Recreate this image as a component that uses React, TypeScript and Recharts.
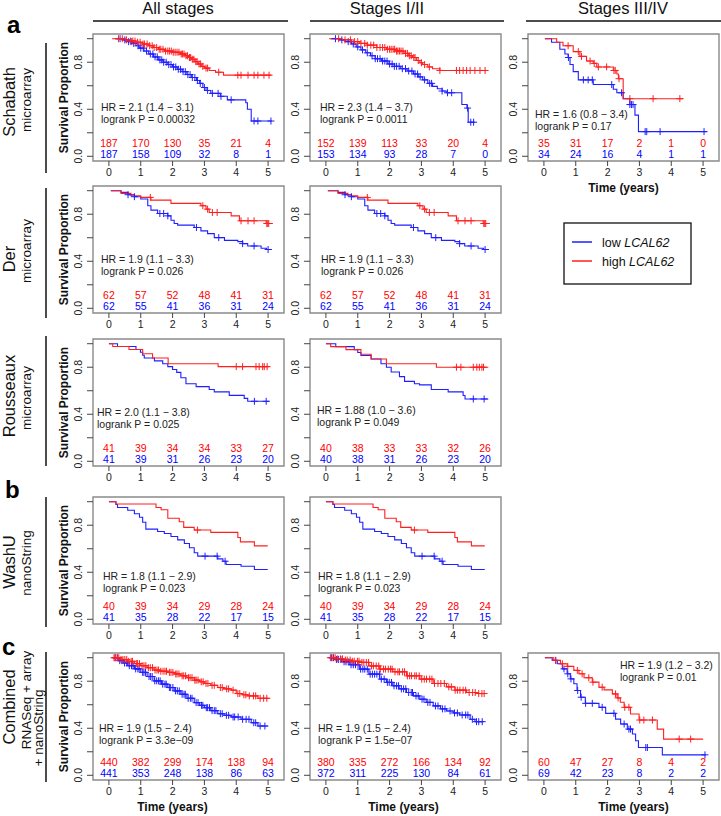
import React from "react";
import { ComposedChart, Line, Scatter, XAxis, YAxis, ReferenceArea } from "recharts";

type Step = [number, number];

const timeTicks = [0, 1, 2, 3, 4, 5];
const survTicks = [0, 0.2, 0.4, 0.6, 0.8, 1];
const survTickLabels = ["0.0", "", "0.4", "", "0.8", ""];

// Schabath microarray, all stages
const schAllHigh: Step[] = [[0.1, 1], [0.45, 0.99], [0.65, 0.98], [0.85, 0.97], [1.05, 0.955], [1.25, 0.94], [1.4, 0.925], [1.55, 0.91], [1.75, 0.895], [2.0, 0.885], [2.25, 0.87], [2.4, 0.855], [2.5, 0.84], [2.6, 0.825], [2.7, 0.805], [2.8, 0.785], [2.9, 0.765], [3.0, 0.75], [3.15, 0.73], [3.35, 0.715], [3.6, 0.69], [5.1, 0.69]];
const schAllHighCens = [0.3, 0.42, 0.55, 0.68, 0.75, 0.82, 0.9, 0.98, 1.07, 1.12, 1.2, 1.28, 1.36, 1.42, 1.5, 1.58, 1.63, 1.7, 1.78, 1.85, 1.9, 1.96, 2.02, 2.08, 2.14, 2.2, 2.27, 2.31, 2.36, 2.42, 2.47, 2.53, 2.57, 2.62, 2.67, 2.73, 2.77, 2.83, 2.88, 2.95, 3.05, 3.1, 3.45, 4.05, 4.15, 4.37, 4.56, 4.68, 4.87, 5.03];
const schAllLow: Step[] = [[0.2, 1], [0.45, 0.99], [0.6, 0.975], [0.75, 0.96], [0.85, 0.94], [0.95, 0.92], [1.1, 0.895], [1.25, 0.87], [1.4, 0.845], [1.55, 0.82], [1.7, 0.8], [1.85, 0.78], [2.0, 0.76], [2.15, 0.74], [2.3, 0.72], [2.45, 0.695], [2.6, 0.67], [2.75, 0.645], [2.85, 0.62], [2.95, 0.585], [3.05, 0.56], [3.2, 0.535], [3.5, 0.51], [3.72, 0.48], [4.3, 0.455], [4.35, 0.4], [4.47, 0.3], [5.12, 0.3]];
const schAllLowCens = [0.35, 0.5, 0.62, 0.7, 0.78, 0.92, 1.0, 1.08, 1.18, 1.3, 1.38, 1.45, 1.52, 1.6, 1.66, 1.72, 1.8, 1.88, 1.95, 2.03, 2.1, 2.18, 2.25, 2.33, 2.4, 2.48, 2.55, 2.62, 2.7, 2.78, 2.87, 3.0, 3.1, 3.25, 3.43, 3.52, 3.84, 4.56, 4.68, 5.09];
const schAllRiskHigh = [187, 170, 130, 35, 21, 4];
const schAllRiskLow = [187, 158, 109, 32, 8, 1];

// Schabath microarray, stages I/II
const schEarlyHigh: Step[] = [[0.1, 1], [0.5, 0.99], [0.8, 0.975], [1.05, 0.96], [1.3, 0.945], [1.6, 0.925], [1.9, 0.91], [2.2, 0.895], [2.45, 0.875], [2.6, 0.855], [2.72, 0.84], [2.85, 0.815], [2.95, 0.795], [3.04, 0.78], [3.2, 0.76], [3.35, 0.745], [3.58, 0.73], [5.06, 0.73]];
const schEarlyHighCens = [0.4, 0.6, 0.77, 0.9, 1.0, 1.1, 1.22, 1.3, 1.41, 1.5, 1.6, 1.7, 1.78, 1.85, 1.93, 2.0, 2.05, 2.11, 2.16, 2.22, 2.26, 2.31, 2.36, 2.42, 2.5, 2.56, 2.62, 2.68, 2.76, 2.8, 2.9, 3.0, 3.1, 3.25, 3.58, 4.1, 4.2, 4.31, 4.42, 4.53, 4.68, 4.84, 5.0];
const schEarlyLow: Step[] = [[0.15, 1], [0.4, 0.99], [0.6, 0.975], [0.8, 0.955], [0.95, 0.93], [1.1, 0.905], [1.25, 0.88], [1.4, 0.855], [1.55, 0.83], [1.75, 0.81], [1.95, 0.785], [2.15, 0.765], [2.35, 0.745], [2.55, 0.725], [2.75, 0.7], [2.9, 0.675], [3.04, 0.65], [3.2, 0.62], [3.35, 0.595], [3.5, 0.575], [3.65, 0.555], [3.78, 0.54], [4.27, 0.44], [4.43, 0.41], [4.47, 0.29], [4.68, 0.29]];
const schEarlyLowCens = [0.3, 0.5, 0.7, 0.86, 1.0, 1.15, 1.3, 1.45, 1.55, 1.62, 1.7, 1.78, 1.85, 1.92, 2.0, 2.08, 2.15, 2.22, 2.3, 2.4, 2.5, 2.6, 2.7, 2.8, 2.88, 2.96, 3.1, 3.26, 3.32, 3.65, 3.82, 3.95, 4.45, 4.55, 4.64];
const schEarlyRiskHigh = [152, 139, 113, 33, 20, 4];
const schEarlyRiskLow = [153, 134, 93, 28, 7, 0];

// Schabath microarray, stages III/IV
const schLateHigh: Step[] = [[0.03, 1], [0.4, 0.97], [0.6, 0.94], [0.92, 0.89], [1.13, 0.85], [1.34, 0.81], [1.55, 0.79], [1.66, 0.76], [2.18, 0.73], [2.29, 0.7], [2.34, 0.66], [2.49, 0.49], [4.38, 0.49]];
const schLateHighCens = [0.76, 1.08, 1.18, 1.45, 1.58, 1.71, 1.97, 2.2, 2.24, 2.36, 2.7, 3.43, 4.27];
const schLateLow: Step[] = [[0.03, 1], [0.24, 0.97], [0.5, 0.91], [0.66, 0.87], [0.76, 0.84], [0.82, 0.78], [0.92, 0.72], [1.08, 0.65], [1.55, 0.61], [2.18, 0.57], [2.29, 0.54], [2.49, 0.49], [2.7, 0.44], [2.86, 0.35], [2.97, 0.21], [5.12, 0.21]];
const schLateLowCens = [0.77, 1.24, 1.39, 1.52, 2.13, 2.44, 2.7, 2.75, 2.8, 3.18, 3.23, 3.65, 5.03];
const schLateRiskHigh = [35, 31, 17, 2, 1, 0];
const schLateRiskLow = [34, 24, 16, 4, 1, 1];

// Der microarray (all stages and stages I/II show the same cohort)
const derHigh: Step[] = [[0.06, 1], [0.38, 0.977], [0.69, 0.957], [1.0, 0.943], [1.32, 0.92], [1.95, 0.892], [2.89, 0.872], [3.05, 0.843], [3.15, 0.815], [3.84, 0.786], [4.1, 0.744], [4.94, 0.721], [5.15, 0.721]];
const derHighCens = [1.3, 2.95, 3.1, 3.25, 3.4, 4.15, 4.37, 4.56, 4.96, 4.99, 5.02];
const derLow: Step[] = [[0.06, 1], [0.38, 0.986], [0.6, 0.966], [0.8, 0.949], [1.0, 0.929], [1.22, 0.872], [1.32, 0.835], [1.53, 0.806], [1.85, 0.786], [1.95, 0.749], [2.05, 0.721], [2.16, 0.707], [2.68, 0.687], [2.89, 0.658], [3.1, 0.635], [3.31, 0.601], [3.63, 0.578], [4.05, 0.567], [4.2, 0.55], [4.36, 0.53], [4.78, 0.51], [4.95, 0.5], [5.12, 0.5]];
const derLowCens = [0.6, 0.8, 1.6, 1.72, 1.85, 2.75, 3.45, 4.2, 4.56, 5.0];
const derRiskHigh = [62, 57, 52, 48, 41, 31];
const derRiskLow = [62, 55, 41, 36, 31, 24];

// Rousseaux microarray, all stages
const rouAllHigh: Step[] = [[0, 1], [0.12, 0.976], [0.63, 0.951], [1.06, 0.915], [1.37, 0.878], [1.86, 0.83], [3.43, 0.805], [5.04, 0.805]];
const rouAllHighCens = [4.0, 4.2, 4.62, 4.72, 4.83, 4.88, 4.97];
const rouAllLow: Step[] = [[0, 1], [0.27, 0.976], [0.85, 0.951], [0.99, 0.927], [1.06, 0.902], [1.11, 0.878], [1.43, 0.854], [1.69, 0.83], [1.85, 0.805], [2.0, 0.78], [2.13, 0.756], [2.26, 0.71], [2.42, 0.66], [2.74, 0.635], [3.15, 0.61], [3.31, 0.59], [3.78, 0.561], [4.25, 0.535], [4.36, 0.51], [5.04, 0.51]];
const rouAllLowCens = [4.57, 4.94];
const rouAllRiskHigh = [41, 39, 34, 34, 33, 27];
const rouAllRiskLow = [41, 39, 31, 26, 23, 20];

// Rousseaux microarray, stages I/II
const rouEarlyHigh: Step[] = [[0, 1], [0.15, 0.975], [0.63, 0.95], [1.1, 0.91], [1.42, 0.87], [1.9, 0.83], [3.47, 0.8], [5.1, 0.8]];
const rouEarlyHighCens = [4.1, 4.24, 4.63, 4.74, 4.82, 4.9, 4.95];
const rouEarlyLow: Step[] = [[0, 1], [0.31, 0.975], [0.89, 0.95], [1.0, 0.925], [1.1, 0.9], [1.42, 0.87], [1.73, 0.83], [1.9, 0.8], [2.05, 0.76], [2.31, 0.72], [2.47, 0.68], [2.78, 0.66], [2.94, 0.65], [3.31, 0.61], [3.84, 0.59], [4.31, 0.56], [4.37, 0.53], [5.1, 0.53]];
const rouEarlyLowCens = [4.63, 4.97];
const rouEarlyRiskHigh = [40, 38, 33, 33, 32, 26];
const rouEarlyRiskLow = [40, 38, 31, 26, 23, 20];

// WashU nanoString (same cohort in both columns)
const washHigh: Step[] = [[0, 1], [0.22, 0.98], [1.48, 0.951], [1.64, 0.931], [1.85, 0.859], [2.21, 0.83], [2.35, 0.782], [2.68, 0.759], [3.2, 0.739], [4.05, 0.695], [4.13, 0.658], [4.57, 0.624], [4.99, 0.624]];
const washHighCens = [2.78];
const washLow: Step[] = [[0, 1], [0.22, 0.976], [0.27, 0.951], [0.59, 0.927], [0.8, 0.897], [0.96, 0.868], [1.06, 0.825], [1.16, 0.767], [1.53, 0.747], [1.74, 0.73], [1.95, 0.704], [2.16, 0.675], [2.37, 0.644], [2.53, 0.609], [2.68, 0.566], [2.79, 0.537], [3.42, 0.514], [3.58, 0.494], [3.68, 0.466], [4.15, 0.451], [4.57, 0.423], [4.99, 0.423]];
const washLowCens = [3.02, 3.4, 3.65];
const washRiskHigh = [40, 39, 34, 29, 28, 24];
const washRiskLow = [41, 35, 28, 22, 17, 15];

// Combined RNASeq + array + nanoString, all stages
const comAllHigh: Step[] = [[0.12, 1], [0.35, 0.985], [0.59, 0.969], [0.8, 0.95], [1.0, 0.932], [1.2, 0.915], [1.42, 0.895], [1.6, 0.885], [1.85, 0.875], [2.05, 0.862], [2.26, 0.846], [2.45, 0.83], [2.68, 0.809], [2.85, 0.795], [3.0, 0.781], [3.2, 0.765], [3.42, 0.746], [3.6, 0.735], [3.84, 0.724], [4.0, 0.695], [4.2, 0.685], [4.36, 0.675], [4.68, 0.655], [5.04, 0.655]];
const comAllHighCens = [0.16, 0.21, 0.27, 0.31, 0.38, 0.44, 0.5, 0.56, 0.62, 0.7, 0.74, 0.86, 0.9, 0.96, 1.04, 1.1, 1.16, 1.24, 1.3, 1.37, 1.45, 1.51, 1.56, 1.63, 1.7, 1.76, 1.81, 1.9, 1.95, 2.01, 2.1, 2.14, 2.2, 2.3, 2.35, 2.41, 2.5, 2.55, 2.61, 2.7, 2.74, 2.8, 2.9, 2.96, 3.05, 3.11, 3.24, 3.31, 3.5, 3.56, 3.7, 3.76, 3.9, 4.05, 4.11, 4.24, 4.3, 4.41, 4.54, 4.61, 4.75, 4.86, 4.96];
const comAllLow: Step[] = [[0.12, 1], [0.3, 0.975], [0.45, 0.955], [0.59, 0.932], [0.8, 0.905], [1.0, 0.875], [1.2, 0.84], [1.42, 0.803], [1.65, 0.775], [1.85, 0.746], [2.05, 0.718], [2.26, 0.689], [2.45, 0.655], [2.68, 0.618], [2.85, 0.595], [3.0, 0.575], [3.2, 0.55], [3.42, 0.524], [3.62, 0.51], [3.84, 0.496], [4.15, 0.476], [4.47, 0.447], [4.68, 0.419], [4.99, 0.419]];
const comAllLowCens = [0.19, 0.26, 0.34, 0.41, 0.49, 0.56, 0.64, 0.71, 0.76, 0.84, 0.91, 0.95, 1.06, 1.1, 1.15, 1.26, 1.31, 1.36, 1.44, 1.5, 1.56, 1.61, 1.69, 1.76, 1.8, 1.9, 1.94, 2.01, 2.09, 2.15, 2.21, 2.3, 2.36, 2.4, 2.49, 2.56, 2.61, 2.74, 2.8, 2.91, 2.95, 3.06, 3.1, 3.16, 3.24, 3.31, 3.36, 3.5, 3.56, 3.69, 3.76, 3.9, 3.95, 4.06, 4.2, 4.31, 4.4, 4.55, 4.61, 4.75, 4.9];
const comAllRiskHigh = [440, 382, 299, 174, 138, 94];
const comAllRiskLow = [441, 353, 248, 138, 86, 63];

// Combined, stages I/II
const comEarlyHigh: Step[] = [[0.1, 1], [0.3, 0.99], [0.55, 0.98], [0.8, 0.97], [1.06, 0.96], [1.35, 0.93], [1.69, 0.903], [2.1, 0.88], [2.53, 0.846], [2.95, 0.818], [3.37, 0.781], [3.79, 0.752], [4.05, 0.724], [4.42, 0.704], [4.7, 0.695], [5.0, 0.695]];
const comEarlyHighCens = [0.14, 0.22, 0.29, 0.37, 0.46, 0.52, 0.61, 0.67, 0.76, 0.83, 0.89, 0.99, 1.04, 1.13, 1.19, 1.27, 1.34, 1.43, 1.49, 1.58, 1.66, 1.71, 1.81, 1.87, 1.96, 2.03, 2.08, 2.17, 2.26, 2.31, 2.41, 2.47, 2.56, 2.63, 2.69, 2.79, 2.84, 2.93, 3.01, 3.09, 3.16, 3.26, 3.33, 3.41, 3.52, 3.61, 3.72, 3.86, 3.94, 4.06, 4.13, 4.21, 4.31, 4.39, 4.5, 4.61, 4.69, 4.8, 4.9, 4.97];
const comEarlyLow: Step[] = [[0.1, 1], [0.3, 0.985], [0.5, 0.965], [0.75, 0.94], [1.06, 0.903], [1.35, 0.86], [1.69, 0.818], [1.9, 0.79], [2.1, 0.761], [2.3, 0.735], [2.53, 0.704], [2.75, 0.675], [2.95, 0.647], [3.15, 0.62], [3.37, 0.59], [3.6, 0.565], [3.79, 0.547], [4.0, 0.53], [4.2, 0.513], [4.53, 0.476], [4.68, 0.456], [4.95, 0.456]];
const comEarlyLowCens = [0.17, 0.24, 0.33, 0.4, 0.47, 0.57, 0.63, 0.72, 0.79, 0.86, 0.93, 1.01, 1.09, 1.16, 1.22, 1.3, 1.39, 1.46, 1.53, 1.6, 1.68, 1.74, 1.83, 1.93, 1.99, 2.06, 2.14, 2.22, 2.28, 2.37, 2.44, 2.51, 2.6, 2.68, 2.72, 2.83, 2.9, 3.02, 3.08, 3.2, 3.27, 3.44, 3.52, 3.66, 3.74, 3.9, 4.04, 4.13, 4.28, 4.39, 4.46, 4.6, 4.73, 4.8, 4.91];
const comEarlyRiskHigh = [380, 335, 272, 166, 134, 92];
const comEarlyRiskLow = [372, 311, 225, 130, 84, 61];

// Combined, stages III/IV
const comLateHigh: Step[] = [[0.03, 1], [0.31, 0.977], [0.52, 0.948], [0.73, 0.926], [0.94, 0.892], [1.1, 0.863], [1.26, 0.829], [1.52, 0.792], [1.73, 0.749], [1.89, 0.726], [2.15, 0.692], [2.3, 0.658], [2.4, 0.621], [2.52, 0.578], [2.72, 0.521], [2.99, 0.47], [3.56, 0.393], [3.76, 0.308], [5.0, 0.308]];
const comLateHighCens = [0.37, 0.58, 0.75, 1.05, 1.2, 1.41, 1.54, 1.83, 2.25, 2.33, 2.54, 2.67, 3.01, 3.14, 3.41, 4.25, 4.61];
const comLateLow: Step[] = [[0.03, 1], [0.26, 0.977], [0.42, 0.948], [0.58, 0.905], [0.73, 0.863], [0.83, 0.82], [0.94, 0.778], [1.04, 0.721], [1.15, 0.664], [1.3, 0.612], [1.73, 0.578], [1.94, 0.527], [2.25, 0.478], [2.41, 0.436], [2.62, 0.393], [2.78, 0.351], [2.88, 0.294], [2.97, 0.236], [3.72, 0.174], [5.08, 0.174]];
const comLateLowCens = [0.37, 0.63, 0.75, 0.85, 1.06, 1.17, 1.31, 1.52, 1.83, 2.2, 2.52, 2.67, 2.72, 3.2, 3.25, 5.06];
const comLateRiskHigh = [60, 47, 27, 8, 4, 2];
const comLateRiskLow = [69, 42, 23, 8, 2, 2];

const RED = "#ff1f1f";
const BLUE = "#1f1fff";
const FONT = "'Liberation Sans', Arial, Helvetica, sans-serif";

const BOX_W = 191;
const BOX_H = 127;
const AX_W = 35;
const AX_H = 35;
const PAD_T = 2;
const PAD_R = 2;
const X_DOMAIN: [number, number] = [-0.5, 5.5];
const Y_DOMAIN: [number, number] = [-0.04, 1.04];
const RISK_Y_HIGH = 0.113;
const RISK_Y_LOW = 0.02;

function survAt(curve: Step[], t: number) {
  let s = curve[0][1];
  for (const [tt, ss] of curve) {
    if (tt <= t) s = ss;
    else break;
  }
  return s;
}

const stepRows = (curve: Step[]) => curve.map(([t, s]) => ({ t, s }));
const censRows = (curve: Step[], times: number[]) => times.map((t) => ({ t, s: survAt(curve, t) }));
const riskRows = (n: number[], s: number) => timeTicks.map((t, i) => ({ t, s, n: n[i] }));

const cross = (color: string) => (p: any) => (
  <g stroke={color} strokeWidth={1}>
    <line x1={p.cx - 3.5} x2={p.cx + 3.5} y1={p.cy} y2={p.cy} />
    <line x1={p.cx} x2={p.cx} y1={p.cy - 3.5} y2={p.cy + 3.5} />
  </g>
);

const riskText = (color: string) => (p: any) => (
  <text x={p.cx} y={p.cy} dy="0.36em" textAnchor="middle" fontSize={10.5} fill={color}>
    {p.payload.n}
  </text>
);

const YTick = (p: any) => {
  const i = survTicks.indexOf(p.payload.value);
  const label = survTickLabels[i];
  if (!label) return <g />;
  const x = p.x - 3;
  return (
    <text x={x} y={p.y} transform={`rotate(-90 ${x} ${p.y})`} textAnchor="middle" fontSize={10.5} fill="#222">
      {label}
    </text>
  );
};

type PanelProps = {
  left: number;
  top: number;
  high: Step[];
  low: Step[];
  highCens: number[];
  lowCens: number[];
  riskHigh: number[];
  riskLow: number[];
  hr: string;
  p: string;
  hrX: number;
  hrY: number;
  timeLabel?: boolean;
  timeDx?: number;
};

function KMPanel(props: PanelProps) {
  const W = AX_W + BOX_W + PAD_R;
  const H = PAD_T + BOX_H + AX_H;
  return (
    <div style={{ position: "absolute", left: props.left - AX_W, top: props.top - PAD_T, width: W, height: H }}>
      <ComposedChart width={W} height={H} margin={{ top: PAD_T, right: PAD_R, left: 0, bottom: 0 }}>
        <XAxis
          type="number"
          dataKey="t"
          domain={X_DOMAIN}
          ticks={timeTicks}
          interval={0}
          allowDataOverflow
          height={AX_H}
          tickSize={5}
          tickMargin={3}
          axisLine={false}
          tickLine={{ stroke: "#444" }}
          tick={{ fontSize: 10.5, fill: "#222" }}
          label={
            props.timeLabel
              ? {
                  value: "Time (years)",
                  position: "insideBottom",
                  offset: 4,
                  dx: props.timeDx ?? 0,
                  fontSize: 12,
                  fontWeight: "bold",
                  fill: "#111",
                }
              : undefined
          }
        />
        <YAxis
          type="number"
          dataKey="s"
          domain={Y_DOMAIN}
          ticks={survTicks}
          interval={0}
          allowDataOverflow
          width={AX_W}
          tickSize={6}
          axisLine={false}
          tickLine={{ stroke: "#444" }}
          tick={YTick}
        />
        <ReferenceArea x1={X_DOMAIN[0]} x2={X_DOMAIN[1]} y1={Y_DOMAIN[0]} y2={Y_DOMAIN[1]} fill="none" stroke="#8a8a8a" strokeWidth={1.4} ifOverflow="visible" />
        <Line data={stepRows(props.low)} dataKey="s" type="stepAfter" stroke={BLUE} strokeWidth={1.1} dot={false} isAnimationActive={false} />
        <Line data={stepRows(props.high)} dataKey="s" type="stepAfter" stroke={RED} strokeWidth={1.1} dot={false} isAnimationActive={false} />
        <Scatter data={censRows(props.low, props.lowCens)} dataKey="s" shape={cross(BLUE)} isAnimationActive={false} />
        <Scatter data={censRows(props.high, props.highCens)} dataKey="s" shape={cross(RED)} isAnimationActive={false} />
        <Scatter data={riskRows(props.riskHigh, RISK_Y_HIGH)} dataKey="s" shape={riskText("#ff0000")} isAnimationActive={false} />
        <Scatter data={riskRows(props.riskLow, RISK_Y_LOW)} dataKey="s" shape={riskText("#0000ff")} isAnimationActive={false} />
      </ComposedChart>
      <svg width={W} height={H} style={{ position: "absolute", left: 0, top: 0, pointerEvents: "none" }}>
        <text x={AX_W + props.hrX} y={PAD_T + props.hrY} fontSize={10.5} fill="#222">
          {props.hr}
        </text>
        <text x={AX_W + props.hrX} y={PAD_T + props.hrY + 12} fontSize={10.5} fill="#222">
          {props.p}
        </text>
      </svg>
    </div>
  );
}

const COL = [93, 310, 528];
const ROW = [34, 186, 339, 497, 653];

const rowLabels = [
  { big: "Schabath", small: ["microarray"], bigY: 102, smallY: [100], line: [43, 173] },
  { big: "Der", small: ["microarray"], bigY: 259, smallY: [251], line: [188, 318] },
  { big: "Rousseaux", small: ["microarray"], bigY: 396, smallY: [398], line: [336, 466] },
  { big: "WashU", small: ["nanoString"], bigY: 562, smallY: [563], line: [497, 627] },
  { big: "Combined", small: ["RNASeq + array", "+ nanoString"], bigY: 707, smallY: [700, 728], line: [652, 782] },
];

function Decorations() {
  return (
    <svg width={721} height={816} style={{ position: "absolute", left: 0, top: 0, pointerEvents: "none" }}>
      <g fontSize={16.5} fill="#111" textAnchor="middle">
        <text x={178} y={14}>All stages</text>
        <text x={387} y={14}>Stages I/II</text>
        <text x={623} y={14}>Stages III/IV</text>
      </g>
      <g stroke="#111" strokeWidth={1.5}>
        <line x1={93} x2={288} y1={21} y2={21} />
        <line x1={310} x2={504} y1={21} y2={21} />
        <line x1={526} x2={721} y1={21} y2={21} />
      </g>
      <g fontSize={24} fontWeight="bold" fill="#000">
        <text x={7} y={33}>a</text>
        <text x={5} y={498}>b</text>
        <text x={2} y={655}>c</text>
      </g>
      {rowLabels.map((r, i) => (
        <g key={r.big}>
          <text x={15} y={r.bigY} transform={`rotate(-90 15 ${r.bigY})`} textAnchor="middle" fontSize={16.5} fill="#111">
            {r.big}
          </text>
          {r.small.map((s, j) => {
            const x = r.small.length > 1 ? 31 + j * 12 : 31;
            return (
              <text key={s} x={x} y={r.smallY[j]} transform={`rotate(-90 ${x} ${r.smallY[j]})`} textAnchor="middle" fontSize={13.5} fill="#111">
                {s}
              </text>
            );
          })}
          <line x1={46} x2={46} y1={r.line[0]} y2={r.line[1]} stroke="#111" strokeWidth={1.5} />
          <text
            x={68}
            y={ROW[i] + 63.5}
            transform={`rotate(-90 68 ${ROW[i] + 63.5})`}
            textAnchor="middle"
            fontSize={12}
            fontWeight="bold"
            fill="#111"
          >
            Survival Proportion
          </text>
        </g>
      ))}
      <rect x={564} y={223} width={127} height={61} fill="#fff" stroke="#111" strokeWidth={1.3} />
      <line x1={572} x2={592} y1={242} y2={242} stroke={BLUE} strokeWidth={1.5} />
      <line x1={572} x2={592} y1={261} y2={261} stroke={RED} strokeWidth={1.5} />
      <g fontSize={12.5} fill="#111">
        <text x={602} y={246.5}>
          low <tspan fontStyle="italic">LCAL62</tspan>
        </text>
        <text x={602} y={265.5}>
          high <tspan fontStyle="italic">LCAL62</tspan>
        </text>
      </g>
    </svg>
  );
}

export default function App() {
  return (
    <div style={{ position: "absolute", left: 0, top: 0, width: 721, height: 816, background: "#fff", fontFamily: FONT, overflow: "hidden" }}>
      <KMPanel left={COL[0]} top={ROW[0]} high={schAllHigh} low={schAllLow} highCens={schAllHighCens} lowCens={schAllLowCens} riskHigh={schAllRiskHigh} riskLow={schAllRiskLow} hr="HR = 2.1 (1.4 − 3.1)" p="logrank P = 0.00032" hrX={8} hrY={76.5} />
      <KMPanel left={COL[1]} top={ROW[0]} high={schEarlyHigh} low={schEarlyLow} highCens={schEarlyHighCens} lowCens={schEarlyLowCens} riskHigh={schEarlyRiskHigh} riskLow={schEarlyRiskLow} hr="HR = 2.3 (1.4 − 3.7)" p="logrank P = 0.0011" hrX={10} hrY={77} />
      <KMPanel left={COL[2]} top={ROW[0]} high={schLateHigh} low={schLateLow} highCens={schLateHighCens} lowCens={schLateLowCens} riskHigh={schLateRiskHigh} riskLow={schLateRiskLow} hr="HR = 1.6 (0.8 − 3.4)" p="logrank P = 0.17" hrX={7} hrY={83.5} timeLabel />

      <KMPanel left={COL[0]} top={ROW[1]} high={derHigh} low={derLow} highCens={derHighCens} lowCens={derLowCens} riskHigh={derRiskHigh} riskLow={derRiskLow} hr="HR = 1.9 (1.1 − 3.3)" p="logrank P = 0.026" hrX={8} hrY={76.5} />
      <KMPanel left={COL[1]} top={ROW[1]} high={derHigh} low={derLow} highCens={derHighCens} lowCens={derLowCens} riskHigh={derRiskHigh} riskLow={derRiskLow} hr="HR = 1.9 (1.1 − 3.3)" p="logrank P = 0.026" hrX={11} hrY={76.5} />

      <KMPanel left={COL[0]} top={ROW[2]} high={rouAllHigh} low={rouAllLow} highCens={rouAllHighCens} lowCens={rouAllLowCens} riskHigh={rouAllRiskHigh} riskLow={rouAllRiskLow} hr="HR = 2.0 (1.1 − 3.8)" p="logrank P = 0.025" hrX={4} hrY={76.5} />
      <KMPanel left={COL[1]} top={ROW[2]} high={rouEarlyHigh} low={rouEarlyLow} highCens={rouEarlyHighCens} lowCens={rouEarlyLowCens} riskHigh={rouEarlyRiskHigh} riskLow={rouEarlyRiskLow} hr="HR = 1.88 (1.0 − 3.6)" p="logrank P = 0.049" hrX={7} hrY={74.5} />

      <KMPanel left={COL[0]} top={ROW[3]} high={washHigh} low={washLow} highCens={washHighCens} lowCens={washLowCens} riskHigh={washRiskHigh} riskLow={washRiskLow} hr="HR = 1.8 (1.1 − 2.9)" p="logrank P = 0.023" hrX={10} hrY={82.5} />
      <KMPanel left={COL[1]} top={ROW[3]} high={washHigh} low={washLow} highCens={washHighCens} lowCens={washLowCens} riskHigh={washRiskHigh} riskLow={washRiskLow} hr="HR = 1.8 (1.1 − 2.9)" p="logrank P = 0.023" hrX={8} hrY={82.5} />

      <KMPanel left={COL[0]} top={ROW[4]} high={comAllHigh} low={comAllLow} highCens={comAllHighCens} lowCens={comAllLowCens} riskHigh={comAllRiskHigh} riskLow={comAllRiskLow} hr="HR = 1.9 (1.5 − 2.4)" p="logrank P = 3.3e−09" hrX={6} hrY={78.5} timeLabel timeDx={-16} />
      <KMPanel left={COL[1]} top={ROW[4]} high={comEarlyHigh} low={comEarlyLow} highCens={comEarlyHighCens} lowCens={comEarlyLowCens} riskHigh={comEarlyRiskHigh} riskLow={comEarlyRiskLow} hr="HR = 1.9 (1.5 − 2.4)" p="logrank P = 1.5e−07" hrX={8} hrY={78.5} timeLabel timeDx={-2} />
      <KMPanel left={COL[2]} top={ROW[4]} high={comLateHigh} low={comLateLow} highCens={comLateHighCens} lowCens={comLateLowCens} riskHigh={comLateRiskHigh} riskLow={comLateRiskLow} hr="HR = 1.9 (1.2 − 3.2)" p="logrank P = 0.01" hrX={92} hrY={15.5} timeLabel timeDx={10} />

      <Decorations />
    </div>
  );
}
